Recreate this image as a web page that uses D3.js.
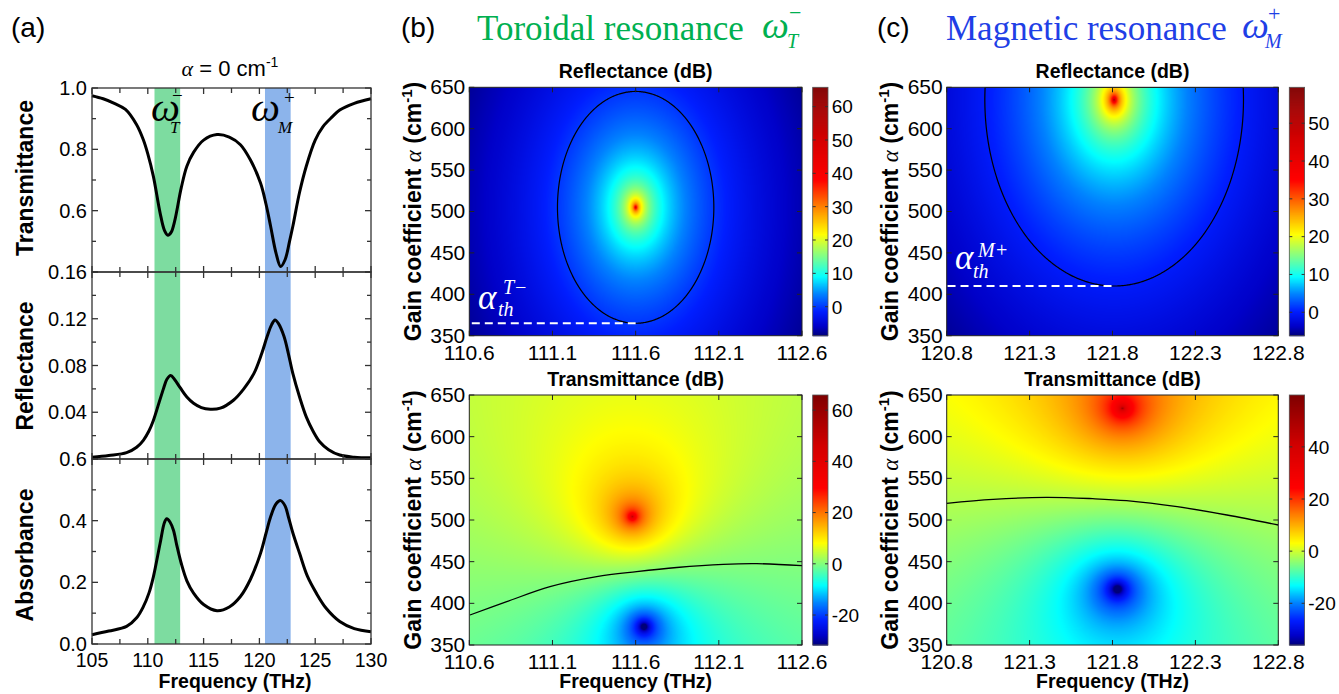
<!DOCTYPE html>
<html><head><meta charset="utf-8">
<script src="https://cdn.jsdelivr.net/npm/d3@7"></script>
<style>
body{margin:0;background:#fff}
svg{display:block}
text{font-family:Arial,"Liberation Sans",sans-serif;fill:#000}
.serif{font-family:"Liberation Serif","Times New Roman",serif}
</style>
</head><body>
<svg id="chart" width="1339" height="694"></svg>
<script>
// ================= DATA =================
// Panel (a): spectra at alpha = 0
const tFreq = [105.0,106.0,107.0,108.0,109.0,109.6,110.0,110.5,111.1,111.5,111.8,112.1,112.4,113.0,113.5,114.1,115.0,116.2,117.3,118.3,119.2,120.1,120.6,121.0,121.5,121.9,122.3,122.7,123.0,123.6,124.2,125.0,125.7,126.5,127.2,128.5,130.0];
const tVal  = [0.975,0.965,0.950,0.930,0.880,0.831,0.785,0.712,0.593,0.535,0.520,0.530,0.565,0.675,0.745,0.790,0.830,0.848,0.840,0.815,0.765,0.690,0.620,0.550,0.460,0.418,0.440,0.500,0.550,0.660,0.745,0.830,0.874,0.905,0.928,0.950,0.965];
const rFreq = [105.0,106.5,108.1,109.0,109.6,110.1,110.5,111.0,111.4,111.7,112.05,112.4,112.9,113.5,114.1,114.8,115.6,116.5,117.7,118.6,119.5,120.2,120.7,121.1,121.4,121.7,122.2,122.6,123.0,123.6,124.2,124.8,125.4,126.2,127.2,128.5,130.0];
const rVal  = [0.0015,0.003,0.0054,0.010,0.016,0.024,0.033,0.048,0.060,0.068,0.0714,0.068,0.061,0.053,0.0477,0.044,0.0426,0.0435,0.0505,0.060,0.073,0.090,0.105,0.115,0.119,0.116,0.105,0.090,0.073,0.053,0.036,0.024,0.0148,0.008,0.0034,0.0015,0.001];
const aFreq = [105.0,106.5,108.1,109.0,109.6,110.1,110.5,111.1,111.5,111.7,112.0,112.3,112.6,113.0,113.5,114.1,115.0,116.2,117.3,118.3,119.2,120.1,120.6,121.0,121.5,121.9,122.3,122.6,123.0,123.6,124.3,125.1,126.0,127.2,128.5,130.0];
const aVal  = [0.030,0.042,0.057,0.085,0.121,0.165,0.218,0.326,0.395,0.406,0.395,0.369,0.320,0.261,0.205,0.165,0.128,0.108,0.120,0.154,0.210,0.294,0.360,0.412,0.455,0.465,0.448,0.412,0.360,0.294,0.220,0.165,0.115,0.073,0.050,0.040];
const xTicksA = [105,110,115,120,125,130];
const xMinorA = [107.5,112.5,117.5,122.5,127.5];
const tTicks = [1.0,0.8,0.6,0.4];        const tTickLabels = ['1.0','0.8','0.6',''];
const tMinor = [0.9,0.7,0.5];
const rTicks = [0.16,0.12,0.08,0.04,0];  const rTickLabels = ['0.16','0.12','0.08','0.04',''];
const rMinor = [0.14,0.10,0.06,0.02];
const aTicks = [0.6,0.4,0.2,0.0];        const aTickLabels = ['0.6','0.4','0.2','0.0'];
const aMinor = [0.5,0.3,0.1];
const bandT = [110.6,112.9];
const bandM = [120.5,122.8];

// Panels (b),(c): gain-frequency maps (features)
const bFreqTicks = [110.6,111.1,111.6,112.1,112.6];
const cFreqTicks = [120.8,121.3,121.8,122.3,122.8];
const gainTicks  = [350,400,450,500,550,600,650];
const bReflPole  = [111.60,505];  const bReflHalf = [0.47,140];
const bReflRange = [-8.7,65.8];   const bReflCbTicks = [0,10,20,30,40,50,60];
const bTransPole = [111.58,504];  const bTransZero = [111.65,372]; const bTransScale = [0.40,80];
const bTransAdj  = [0.5,0.004,438];   // offset dB, dB per cm^-1, reference gain
const bTransRange = [-31.7,65.9]; const bTransCbTicks = [-20,0,20,40,60];
const cReflPole  = [121.81,635];  const cReflHalf = [0.78,225];
const cReflRange = [-6.2,59.5];   const cReflCbTicks = [0,10,20,30,40,50];
const cTransPole = [121.86,634];  const cTransZero = [121.83,417]; const cTransScale = [1.2,225];
const cTransAdj  = [-1.2,0.006,525];
const cTransRange = [-36,59.9];   const cTransCbTicks = [-20,0,20,40];
const bTransContour = [[110.604,386],[110.825,402],[111.085,420],[111.366,432],[111.606,438],[111.847,443],[112.127,446.8],[112.328,447.6],[112.6,445.2]];
const cTransContour = [[120.8,520],[121.08,524.8],[121.40,527.2],[121.68,525.6],[121.885,523.2],[122.19,516],[122.49,506],[122.8,494]];
const bThreshold = [110.615,111.60,365];
const cThreshold = [120.805,121.80,410];
// colormap (position along colorbar -> colour)
const cmapPos = [0,0.04,0.10,0.17,0.24,0.32,0.41,0.52,0.63,0.80,1];
const cmapCol = ['#000078','#0000c8','#001eff','#0082ff','#00ffff','#78ff87','#ffff00','#ff8200','#ff0000','#d20000','#800000'];

// ================= DRAW =================
const svg = d3.select('#chart');
const cmap = d3.scaleLinear().domain(cmapPos).range(cmapCol).clamp(true);
const LUT = d3.range(1024).map(k => d3.rgb(cmap(k/1023)));
const axisCol = '#333';

// ---------- panel (a) ----------
const xa = d3.scaleLinear().domain([105,130]).range([92,371]);
const aPanels = [
  {dom:[0.4,1.0], top:88,  bot:272, ticks:tTicks, labels:tTickLabels, minor:tMinor, fx:tFreq, v:tVal, title:'Transmittance', ty:178},
  {dom:[0,0.16],  top:272, bot:459, ticks:rTicks, labels:rTickLabels, minor:rMinor, fx:rFreq, v:rVal, title:'Reflectance',   ty:366},
  {dom:[0,0.6],   top:459, bot:644, ticks:aTicks, labels:aTickLabels, minor:aMinor, fx:aFreq, v:aVal, title:'Absorbance',    ty:555}
];
const ga = svg.append('g');
[[bandT,'#7ddca0'],[bandM,'#8cb4eb']].forEach(([b,c]) => {
  ga.append('rect').attr('x',xa(b[0])).attr('y',88).attr('width',xa(b[1])-xa(b[0])).attr('height',644-88).attr('fill',c);
});
aPanels.forEach(p => {
  const y = d3.scaleLinear().domain(p.dom).range([p.bot,p.top]);
  const pts = p.fx.map((f,i)=>[f,p.v[i]]);
  ga.append('path').attr('d', d3.line().x(d=>xa(d[0])).y(d=>y(d[1])).curve(d3.curveCatmullRom.alpha(0.5))(pts))
    .attr('fill','none').attr('stroke','#000').attr('stroke-width',3).attr('stroke-linejoin','round');
  ga.append('rect').attr('x',92).attr('y',p.top).attr('width',371-92).attr('height',p.bot-p.top)
    .attr('fill','none').attr('stroke',axisCol).attr('stroke-width',1.3);
  p.ticks.forEach((t,i) => {
    [[92,6],[371,-6]].forEach(([x0,d]) => ga.append('line').attr('x1',x0).attr('x2',x0+d).attr('y1',y(t)).attr('y2',y(t)).attr('stroke',axisCol).attr('stroke-width',1.3));
    if (p.labels[i]) ga.append('text').attr('x',87).attr('y',y(t)).attr('dy','0.35em').attr('text-anchor','end').attr('font-size',20).text(p.labels[i]);
  });
  p.minor.forEach(t => {
    [[92,4],[371,-4]].forEach(([x0,d]) => ga.append('line').attr('x1',x0).attr('x2',x0+d).attr('y1',y(t)).attr('y2',y(t)).attr('stroke',axisCol).attr('stroke-width',1.3));
  });
  xTicksA.concat(xMinorA).forEach((t,i) => {
    const L = i < xTicksA.length ? 6 : 5;
    ga.append('line').attr('x1',xa(t)).attr('x2',xa(t)).attr('y1',p.bot).attr('y2',p.bot-L).attr('stroke',axisCol).attr('stroke-width',1.3);
    ga.append('line').attr('x1',xa(t)).attr('x2',xa(t)).attr('y1',p.top).attr('y2',p.top+L).attr('stroke',axisCol).attr('stroke-width',1.3);
  });
  ga.append('text').attr('transform',`translate(33,${p.ty}) rotate(-90)`).attr('text-anchor','middle')
    .attr('font-size',23).attr('font-weight','bold').text(p.title);
});
xTicksA.forEach(t => ga.append('text').attr('x',xa(t)).attr('y',667).attr('text-anchor','middle').attr('font-size',19.5).text(t));
ga.append('text').attr('x',235).attr('y',688).attr('text-anchor','middle').attr('font-size',19.5).attr('font-weight','bold').text('Frequency (THz)');
const at = ga.append('text').attr('x',230).attr('y',76).attr('text-anchor','middle').attr('font-size',22);
at.append('tspan').attr('class','serif').attr('font-style','italic').text('α');
at.append('tspan').text(' = 0 cm');
at.append('tspan').attr('font-size',14).attr('dy',-9).text('-1');
function omega(g, x, base, size, col, sup, supX, supBase, supSize, sub, subX, subBase, subSize){
  g.append('text').attr('class','serif').attr('x',x).attr('y',base).attr('font-size',size).attr('font-style','italic').style('fill',col).text('ω');
  g.append('text').attr('class','serif').attr('x',supX).attr('y',supBase).attr('font-size',supSize).style('fill',col).text(sup);
  g.append('text').attr('class','serif').attr('x',subX).attr('y',subBase).attr('font-size',subSize).attr('font-style','italic').style('fill',col).text(sub);
}
omega(ga,151,121,41,'#000','−',172,102,19,'T',170,133,17);
omega(ga,251,121,41,'#000','+',284,104,19,'M',278,133,17);

svg.append('text').attr('x',11).attr('y',37).attr('font-size',28).text('(a)');
svg.append('text').attr('x',401).attr('y',37).attr('font-size',28).text('(b)');
svg.append('text').attr('x',877).attr('y',37).attr('font-size',28).text('(c)');
svg.append('text').attr('class','serif').attr('x',477).attr('y',40).attr('font-size',35).style('fill','#00b050').text('Toroidal resonance');
omega(svg,762,38,38,'#00b050','−',789,20,22,'T',787,48,20);
svg.append('text').attr('class','serif').attr('x',946).attr('y',40).attr('font-size',35).style('fill','#1f3fe6').text('Magnetic resonance');
omega(svg,1242,38,38,'#1f3fe6','+',1268,21,22,'M',1265,48,20);

// ---------- heat maps ----------
function reflField(pole, half){
  return (f,a) => { const u=(f-pole[0])/half[0], v=(a-pole[1])/half[1]; return -10*Math.log10(u*u+v*v+1e-9); };
}
function transField(pole, zero, sc, adj){
  return (f,a) => {
    const up=(f-pole[0])/sc[0], vp=(a-pole[1])/sc[1], uz=(f-zero[0])/sc[0], vz=(a-zero[1])/sc[1];
    return 10*Math.log10((uz*uz+vz*vz+1e-9)/(up*up+vp*vp+1e-9)) + adj[0] + adj[1]*(a-adj[2]);
  };
}
let clipId = 0;
function heatPanel(o){
  const g = svg.append('g');
  const x = d3.scaleLinear().domain([o.fTicks[0],o.fTicks[o.fTicks.length-1]]).range([o.x0,o.x1]);
  const y = d3.scaleLinear().domain([350,650]).range([o.y1,o.y0]);
  const W = Math.round(o.x1-o.x0), H = Math.round(o.y1-o.y0);
  const vals = new Float64Array(W*H);
  const cv = document.createElement('canvas'); cv.width=W; cv.height=H;
  const ctx = cv.getContext('2d'); const img = ctx.createImageData(W,H);
  const pr = d3.scaleLinear().domain(o.range).range([0,1]).clamp(true);
  for (let j=0;j<H;j++) for (let i=0;i<W;i++){
    const f = x.invert(o.x0+(i+0.5)*(o.x1-o.x0)/W), a = y.invert(o.y0+(j+0.5)*(o.y1-o.y0)/H);
    let v = o.field(f,a); v = Math.max(-300,Math.min(300,v));
    vals[j*W+i] = v;
    const c = LUT[Math.round(pr(v)*1023)]; const k=4*(j*W+i);
    img.data[k]=c.r; img.data[k+1]=c.g; img.data[k+2]=c.b; img.data[k+3]=255;
  }
  ctx.putImageData(img,0,0);
  g.append('image').attr('href',cv.toDataURL()).attr('x',o.x0).attr('y',o.y0).attr('width',o.x1-o.x0).attr('height',o.y1-o.y0).attr('preserveAspectRatio','none');
  const cid = 'clip'+(clipId++);
  g.append('clipPath').attr('id',cid).append('rect').attr('x',o.x0).attr('y',o.y0).attr('width',o.x1-o.x0).attr('height',o.y1-o.y0);
  const gc = g.append('g').attr('clip-path',`url(#${cid})`);
  if (o.contourFromField){
    const cont = d3.contours().size([W,H]).thresholds([0])(Array.from(vals));
    const sx=(o.x1-o.x0)/W, sy=(o.y1-o.y0)/H;
    const tr = d3.geoTransform({point(px,py){ this.stream.point(o.x0+px*sx, o.y0+py*sy); }});
    gc.append('path').attr('d',d3.geoPath(tr)(cont[0])).attr('fill','none').attr('stroke','#000').attr('stroke-width',1.2);
  }
  if (o.contour){
    gc.append('path').attr('d',d3.line().x(d=>x(d[0])).y(d=>y(d[1])).curve(d3.curveCatmullRom.alpha(0.5))(o.contour))
      .attr('fill','none').attr('stroke','#000').attr('stroke-width',1.3);
  }
  if (o.threshold){
    gc.append('line').attr('x1',x(o.threshold[0])).attr('x2',x(o.threshold[1])).attr('y1',y(o.threshold[2])).attr('y2',y(o.threshold[2]))
      .attr('stroke','#fff').attr('stroke-width',2).attr('stroke-dasharray','8,5');
  }
  g.append('rect').attr('x',o.x0).attr('y',o.y0).attr('width',o.x1-o.x0).attr('height',o.y1-o.y0).attr('fill','none').attr('stroke','#222').attr('stroke-width',1);
  o.fTicks.forEach(t => {
    g.append('line').attr('x1',x(t)).attr('x2',x(t)).attr('y1',o.y1).attr('y2',o.y1-5).attr('stroke','#222');
    g.append('line').attr('x1',x(t)).attr('x2',x(t)).attr('y1',o.y0).attr('y2',o.y0+5).attr('stroke','#222');
    g.append('text').attr('x',x(t)).attr('y',o.y1+24).attr('text-anchor','middle').attr('font-size',21).text(d3.format('.1f')(t));
  });
  gainTicks.forEach(t => {
    g.append('line').attr('x1',o.x0).attr('x2',o.x0+5).attr('y1',y(t)).attr('y2',y(t)).attr('stroke','#222');
    g.append('line').attr('x1',o.x1).attr('x2',o.x1-5).attr('y1',y(t)).attr('y2',y(t)).attr('stroke','#222');
    g.append('text').attr('x',o.x0-4).attr('y',y(t)).attr('dy','0.33em').attr('text-anchor','end').attr('font-size',21).text(t);
  });
  const cb = d3.scaleLinear().domain(o.range).range([o.y1,o.y0]);
  const N = 250, step = (o.range[1]-o.range[0])/N;
  d3.range(N).forEach(k => {
    const v0 = o.range[0]+k*step, v1 = v0+step;
    g.append('rect').attr('x',o.cbX).attr('y',cb(v1)).attr('width',15.3).attr('height',cb(v0)-cb(v1)+0.6)
      .attr('fill',cmap(pr(v0+step/2)));
  });
  g.append('rect').attr('x',o.cbX).attr('y',o.y0).attr('width',15.3).attr('height',o.y1-o.y0).attr('fill','none').attr('stroke','#555').attr('stroke-width',0.8);
  o.cbTicks.forEach(t => {
    g.append('line').attr('x1',o.cbX+15.3).attr('x2',o.cbX+12.3).attr('y1',cb(t)).attr('y2',cb(t)).attr('stroke','#333');
    g.append('line').attr('x1',o.cbX).attr('x2',o.cbX+3).attr('y1',cb(t)).attr('y2',cb(t)).attr('stroke','#333');
    g.append('text').attr('x',o.cbX+19).attr('y',cb(t)).attr('dy','0.36em').attr('font-size',19).text(t);
  });
  g.append('text').attr('x',(o.x0+o.x1)/2).attr('y',o.y0-9.5).attr('text-anchor','middle').attr('font-size',19.5).attr('font-weight','bold').text(o.title);
  const yl = g.append('text').attr('transform',`translate(${o.yLabX},${(o.y0+o.y1)/2}) rotate(-90)`).attr('text-anchor','middle').attr('font-size',23).attr('font-weight','bold');
  yl.append('tspan').text('Gain coefficient ');
  yl.append('tspan').attr('class','serif').attr('font-style','italic').attr('font-weight','normal').text('α');
  yl.append('tspan').text(' (cm');
  yl.append('tspan').attr('font-size',15).attr('dy',-9).text('-1');
  yl.append('tspan').attr('dy',9).text(')');
  if (o.xTitle) g.append('text').attr('x',(o.x0+o.x1)/2).attr('y',688).attr('text-anchor','middle').attr('font-size',19.5).attr('font-weight','bold').text('Frequency (THz)');
  return {g,x,y};
}

heatPanel({x0:469.3,x1:802,y0:87.3,y1:335.7,fTicks:bFreqTicks,field:reflField(bReflPole,bReflHalf),range:bReflRange,cbTicks:bReflCbTicks,cbX:812.7,
  title:'Reflectance (dB)',yLabX:421,contourFromField:true,threshold:bThreshold});
heatPanel({x0:469.3,x1:802,y0:395,y1:645,fTicks:bFreqTicks,field:transField(bTransPole,bTransZero,bTransScale,bTransAdj),range:bTransRange,cbTicks:bTransCbTicks,cbX:812.7,
  title:'Transmittance (dB)',yLabX:421,contour:bTransContour,xTitle:true});
heatPanel({x0:946.7,x1:1278.3,y0:87.3,y1:335.7,fTicks:cFreqTicks,field:reflField(cReflPole,cReflHalf),range:cReflRange,cbTicks:cReflCbTicks,cbX:1289.3,
  title:'Reflectance (dB)',yLabX:898,contourFromField:true,threshold:cThreshold});
heatPanel({x0:946.7,x1:1278.3,y0:395,y1:645,fTicks:cFreqTicks,field:transField(cTransPole,cTransZero,cTransScale,cTransAdj),range:cTransRange,cbTicks:cTransCbTicks,cbX:1289.3,
  title:'Transmittance (dB)',yLabX:898,contour:cTransContour,xTitle:true});

function alphaTh(x, base, sup, supX, supBase, subX, subBase){
  svg.append('text').attr('class','serif').attr('x',x).attr('y',base).attr('font-size',35).attr('font-style','italic').style('fill','#fff').text('α');
  svg.append('text').attr('class','serif').attr('x',supX).attr('y',supBase).attr('font-size',20).attr('font-style','italic').style('fill','#fff').text(sup);
  svg.append('text').attr('class','serif').attr('x',subX).attr('y',subBase).attr('font-size',20).attr('font-style','italic').style('fill','#fff').text('th');
}
alphaTh(478,309,'T−',503,294,498,316);
alphaTh(955,269,'M+',978,257,973,278);
</script>
</body></html>
